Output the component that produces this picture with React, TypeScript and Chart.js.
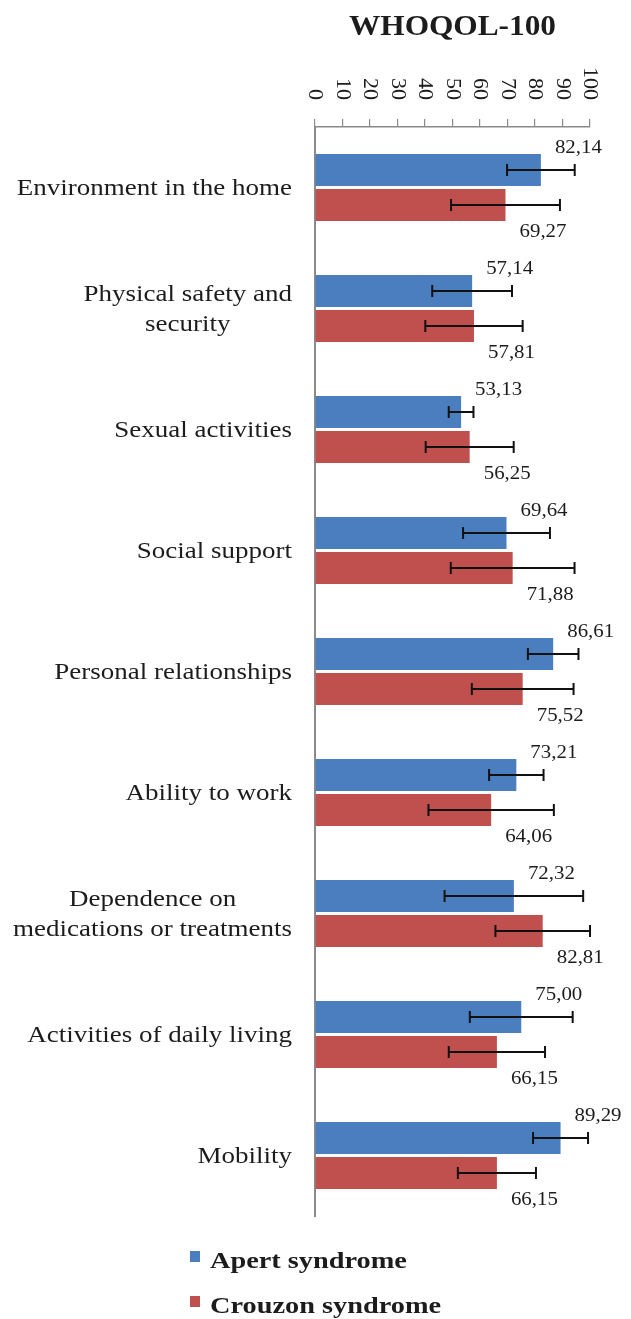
import React, { useEffect, useRef } from "react";
import { Chart, registerables } from "chart.js";

Chart.register(...registerables);

// ---------- data ----------
const chartTitle = "WHOQOL-100";
const categories: string[][] = [
  ["Environment in the home"],
  ["Physical safety and", "security"],
  ["Sexual activities"],
  ["Social support"],
  ["Personal relationships"],
  ["Ability to work"],
  ["Dependence on", "medications or treatments"],
  ["Activities of daily living"],
  ["Mobility"],
];
const seriesNames = ["Apert syndrome", "Crouzon syndrome"];
const apertValues = [82.14, 57.14, 53.13, 69.64, 86.61, 73.21, 72.32, 75.0, 89.29];
const crouzonValues = [69.27, 57.81, 56.25, 71.88, 75.52, 64.06, 82.81, 66.15, 66.15];
const apertErrors = [12.3, 14.5, 4.5, 15.8, 9.2, 9.9, 25.2, 18.7, 10.0];
const crouzonErrors = [19.8, 17.7, 16.0, 22.5, 18.5, 22.8, 17.2, 17.5, 14.2];
const axisMin = 0;
const axisMax = 100;
const axisStep = 10;

// ---------- styles ----------
const SERIF = "'Liberation Serif', 'Times New Roman', serif";
const BLUE = "#4A7EBF";
const RED = "#C0504D";
const AXIS_GRAY = "#8a8a8a";
const TEXT = "#1c1c1c";

function drawText(
  ctx: CanvasRenderingContext2D,
  text: string,
  x: number,
  y: number,
  font: string,
  sx: number,
  align: CanvasTextAlign,
  baseline: CanvasTextBaseline = "middle",
  rotate = 0
) {
  ctx.save();
  ctx.translate(x, y);
  if (rotate) ctx.rotate(rotate);
  ctx.scale(sx, 1);
  ctx.font = font;
  ctx.textAlign = align;
  ctx.textBaseline = baseline;
  ctx.fillStyle = TEXT;
  ctx.fillText(text, 0, 0);
  ctx.restore();
}

const errors = [apertErrors, crouzonErrors];

const decorPlugin = {
  id: "decor",
  afterDatasetsDraw(chart: any) {
    const ctx: CanvasRenderingContext2D = chart.ctx;
    const xs = chart.scales.x;
    chart.data.datasets.forEach((ds: any, di: number) => {
      const meta = chart.getDatasetMeta(di);
      meta.data.forEach((bar: any, i: number) => {
        const v = ds.data[i];
        const e = errors[di][i];
        const x1 = xs.getPixelForValue(v - e);
        const x2 = xs.getPixelForValue(v + e);
        const y = bar.y;
        ctx.save();
        ctx.strokeStyle = "#111";
        ctx.lineWidth = 2;
        ctx.beginPath();
        ctx.moveTo(x1, y);
        ctx.lineTo(x2, y);
        ctx.moveTo(x1, y - 6);
        ctx.lineTo(x1, y + 6);
        ctx.moveTo(x2, y - 6);
        ctx.lineTo(x2, y + 6);
        ctx.stroke();
        ctx.restore();
        const half = bar.height / 2;
        const label = v.toFixed(2).replace(".", ",");
        const ly = di === 0 ? bar.y - half - 6 : bar.y + half + 11;
        drawText(ctx, label, bar.x + 14, ly, `19px ${SERIF}`, 1.1, "left");
      });
    });
  },
  afterDraw(chart: any) {
    const ctx: CanvasRenderingContext2D = chart.ctx;
    const xs = chart.scales.x;
    const ys = chart.scales.y;
    const area = chart.chartArea;
    // title
    drawText(ctx, chartTitle, (area.left + area.right) / 2, 35, `bold 29px ${SERIF}`, 1.08, "center", "alphabetic");
    // rotated tick labels
    xs.ticks.forEach((t: any) => {
      const px = xs.getPixelForValue(t.value);
      drawText(ctx, String(t.value), px, area.top - 27, `21px ${SERIF}`, 1.05, "right", "middle", Math.PI / 2);
    });
    // category labels
    const labelRight = area.left - 23;
    const lineH = 30;
    ctx.save();
    ctx.font = `22.5px ${SERIF}`;
    const sx = 1.2;
    (chart.data.labels as string[][]).forEach((lines, i) => {
      const cy = ys.getPixelForValue(i);
      const widths = lines.map((l) => ctx.measureText(l).width * sx);
      const blockW = Math.max(...widths);
      const cx = labelRight - blockW / 2;
      lines.forEach((l, k) => {
        const y = cy + (k - (lines.length - 1) / 2) * lineH + 2;
        drawText(ctx, l, cx, y, `22.5px ${SERIF}`, sx, "center");
      });
    });
    ctx.restore();
    // legend
    const legendY = [1268, 1313];
    chart.data.datasets.forEach((ds: any, di: number) => {
      const by = legendY[di];
      ctx.save();
      ctx.fillStyle = ds.backgroundColor;
      ctx.fillRect(190, by - 17, 10, 11);
      ctx.restore();
      drawText(ctx, ds.label, 210, by, `bold 24px ${SERIF}`, 1.18, "left", "alphabetic");
    });
  },
};

export default function App() {
  const ref = useRef<HTMLCanvasElement | null>(null);
  useEffect(() => {
    if (!ref.current) return;
    const chart = new Chart(ref.current, {
      type: "bar",
      data: {
        labels: categories as any,
        datasets: [
          {
            label: seriesNames[0],
            data: apertValues,
            backgroundColor: BLUE,
            borderWidth: 0,
            categoryPercentage: 0.578,
            barPercentage: 0.914,
          },
          {
            label: seriesNames[1],
            data: crouzonValues,
            backgroundColor: RED,
            borderWidth: 0,
            categoryPercentage: 0.578,
            barPercentage: 0.914,
          },
        ],
      },
      options: {
        indexAxis: "y",
        responsive: false,
        animation: false,
        devicePixelRatio: 1,
        layout: { padding: { top: 119, left: 315, right: 41, bottom: 103 } },
        plugins: {
          legend: { display: false },
          title: { display: false },
          tooltip: { enabled: false },
        },
        scales: {
          x: {
            position: "top",
            min: axisMin,
            max: axisMax,
            ticks: { stepSize: axisStep, display: false },
            grid: {
              display: true,
              drawOnChartArea: false,
              drawTicks: true,
              tickLength: 8,
              color: AXIS_GRAY,
              lineWidth: 1.2,
            },
            border: { display: true, color: AXIS_GRAY, width: 1.5 },
          },
          y: {
            ticks: { display: false },
            grid: { display: false, drawTicks: false, tickLength: 0 },
            border: { display: true, color: AXIS_GRAY, width: 2 },
          },
        },
      },
      plugins: [decorPlugin],
    });
    return () => chart.destroy();
  }, []);
  return (
    <div style={{ position: "absolute", left: 0, top: 0, width: 631, height: 1319, background: "#fff" }}>
      <canvas ref={ref} width={631} height={1319} style={{ display: "block" }} />
    </div>
  );
}
